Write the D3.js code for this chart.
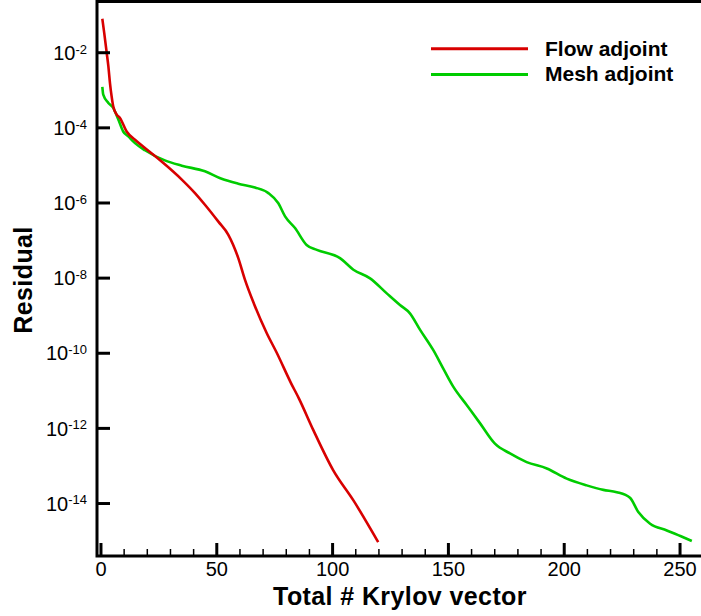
<!DOCTYPE html>
<html lang="en">
<head>
	<meta charset="UTF-8">
	<title>Residual vs Krylov vectors</title>
	<style>
		body { margin: 0; background: #fff; }
		svg { display: block; font-family: "Liberation Sans", Arial, Helvetica, sans-serif; }
		.line { fill: none; stroke-width: 2.6px; stroke-linejoin: round; }
		.frame { fill: none; stroke: #000; stroke-width: 3px; }
		.major line { stroke: #000; stroke-width: 3px; }
		.minor line { stroke: #000; stroke-width: 1.5px; }
		.axis path { stroke-width: 0; }
		.axis text { font-size: 20px; fill: #000; }
		.title { font-size: 25px; font-weight: bold; letter-spacing: 0.4px; }
		.legend text { font-size: 21px; font-weight: bold; }
	</style>
	<script src="https://cdn.jsdelivr.net/npm/d3@7"></script>
</head>
<body>
	<div class="wrap"></div>
	<script>
	// residuals are given as log10 values
	var flowIter = [0.8, 1.6, 2.7, 3.4, 4.1, 4.8, 5.5, 7.0, 8.4, 11.3, 14.9, 19.2, 26.4, 35.1, 40.8, 45.1, 50.9, 55.2,
		59.5, 62.4, 66.3, 71.8, 76.1, 82.2, 85.7, 91.9, 100.5, 109.2, 119.9];
	var flowLogRes = [-1.11, -1.48, -2.02, -2.37, -2.82, -3.17, -3.44, -3.66, -3.75, -4.11, -4.33, -4.55, -4.91, -5.39, -5.75, -6.06, -6.51, -6.86,
		-7.48, -8.06, -8.70, -9.48, -10.0, -10.8, -11.22, -12.06, -13.13, -13.93, -15.04];

	var meshIter = [0.8, 1.2, 3.4, 5.5, 7.7, 9.8, 12.0, 14.9, 19.2, 27.8, 35.1, 45.1, 52.3, 59.5, 66.7, 72.5, 76.8, 79.7,
		84.0, 89.0, 93.4, 103.4, 109.2, 116.4, 123.6, 129.3, 133.6, 138.0, 143.7, 148.0, 152.3, 158.1,
		163.9, 170.3, 176.8, 184.0, 192.7, 201.3, 209.9, 217.1, 222.9, 228.6, 232.2, 237.3, 244.5, 251.6, 255.3];
	var meshLogRes = [-2.92, -3.13, -3.35, -3.48, -3.79, -4.11, -4.24, -4.42, -4.61, -4.88, -5.02, -5.17, -5.37, -5.50, -5.60, -5.75, -6.02, -6.37,
		-6.68, -7.13, -7.26, -7.48, -7.79, -8.02, -8.42, -8.73, -8.95, -9.39, -9.93, -10.42, -10.90, -11.39,
		-11.88, -12.42, -12.68, -12.91, -13.08, -13.35, -13.53, -13.65, -13.71, -13.86, -14.24, -14.55, -14.73, -14.91, -15.01];

	var seriesNames = ["Flow adjoint", "Mesh adjoint"];
	var seriesColors = ["#d80000", "#00cc00"];
	var xMajor = [0, 50, 100, 150, 200, 250];
	var xMinor = [10, 20, 30, 40, 60, 70, 80, 90, 110, 120, 130, 140, 160, 170, 180, 190, 210, 220, 230, 240];
	var yExponents = [-2, -4, -6, -8, -10, -12, -14];

	var W = 701, H = 616;
	var plot = {left: 97, top: 1.5, right: 702.7, bottom: 556};

	var x = d3.scaleLinear().domain([-1.5, 260]).range([plot.left, plot.right]);
	var y = d3.scaleLog().domain([Math.pow(10, -0.65), Math.pow(10, -15.41)]).range([plot.top, plot.bottom]);

	var svg = d3.select(".wrap").append("svg")
		.attr("width", W)
		.attr("height", H);

	function toPoints(iters, logs) {
		return iters.map(function(it, i) { return {it: it, res: Math.pow(10, logs[i])}; });
	}
	var series = [toPoints(flowIter, flowLogRes), toPoints(meshIter, meshLogRes)];

	var line = d3.line()
		.x(function(d) { return x(d.it); })
		.y(function(d) { return y(d.res); })
		.curve(d3.curveMonotoneX);

	// mesh drawn first so flow sits on top
	[1, 0].forEach(function(k) {
		svg.append("path")
			.datum(series[k])
			.attr("class", "line")
			.style("stroke", seriesColors[k])
			.attr("d", line);
	});

	// x minor ticks
	svg.append("g")
		.attr("class", "axis minor")
		.attr("transform", "translate(0," + plot.bottom + ")")
		.call(d3.axisBottom(x).tickValues(xMinor).tickSizeInner(-7).tickSizeOuter(0).tickFormat(""));

	// x major ticks + labels
	svg.append("g")
		.attr("class", "axis major")
		.attr("transform", "translate(0," + plot.bottom + ")")
		.call(d3.axisBottom(x).tickValues(xMajor).tickSizeInner(-13).tickSizeOuter(0).tickPadding(6));

	// y ticks, labels as 10^n
	var yAxis = svg.append("g")
		.attr("class", "axis major")
		.attr("transform", "translate(" + plot.left + ",0)")
		.call(d3.axisLeft(y).tickValues(yExponents.map(function(e) { return Math.pow(10, e); }))
			.tickSizeInner(-13).tickSizeOuter(0).tickPadding(10).tickFormat(""));

	yAxis.selectAll(".tick text").each(function(d, i) {
		var t = d3.select(this).attr("dy", "0.36em");
		t.append("tspan").text("10");
		t.append("tspan")
			.attr("dy", "-0.48em")
			.style("font-size", "13px")
			.text("-" + Math.abs(yExponents[i]));
	});

	// frame
	svg.append("rect")
		.attr("class", "frame")
		.attr("x", plot.left)
		.attr("y", plot.top)
		.attr("width", plot.right - plot.left + 4)
		.attr("height", plot.bottom - plot.top);

	// axis titles
	svg.append("text")
		.attr("class", "title")
		.attr("x", 400)
		.attr("y", 604.5)
		.attr("text-anchor", "middle")
		.text("Total # Krylov vector");

	svg.append("text")
		.attr("class", "title")
		.attr("transform", "translate(32,280) rotate(-90)")
		.attr("text-anchor", "middle")
		.text("Residual");

	// legend
	var legend = svg.append("g").attr("class", "legend");
	seriesNames.forEach(function(name, i) {
		var ly = 48.7 + i * 25.8;
		legend.append("line")
			.attr("x1", 431).attr("x2", 528)
			.attr("y1", ly).attr("y2", ly)
			.style("stroke", seriesColors[i])
			.style("stroke-width", 3);
		legend.append("text")
			.attr("x", 545)
			.attr("y", ly + 6.8)
			.text(name);
	});
	</script>
</body>
</html>
